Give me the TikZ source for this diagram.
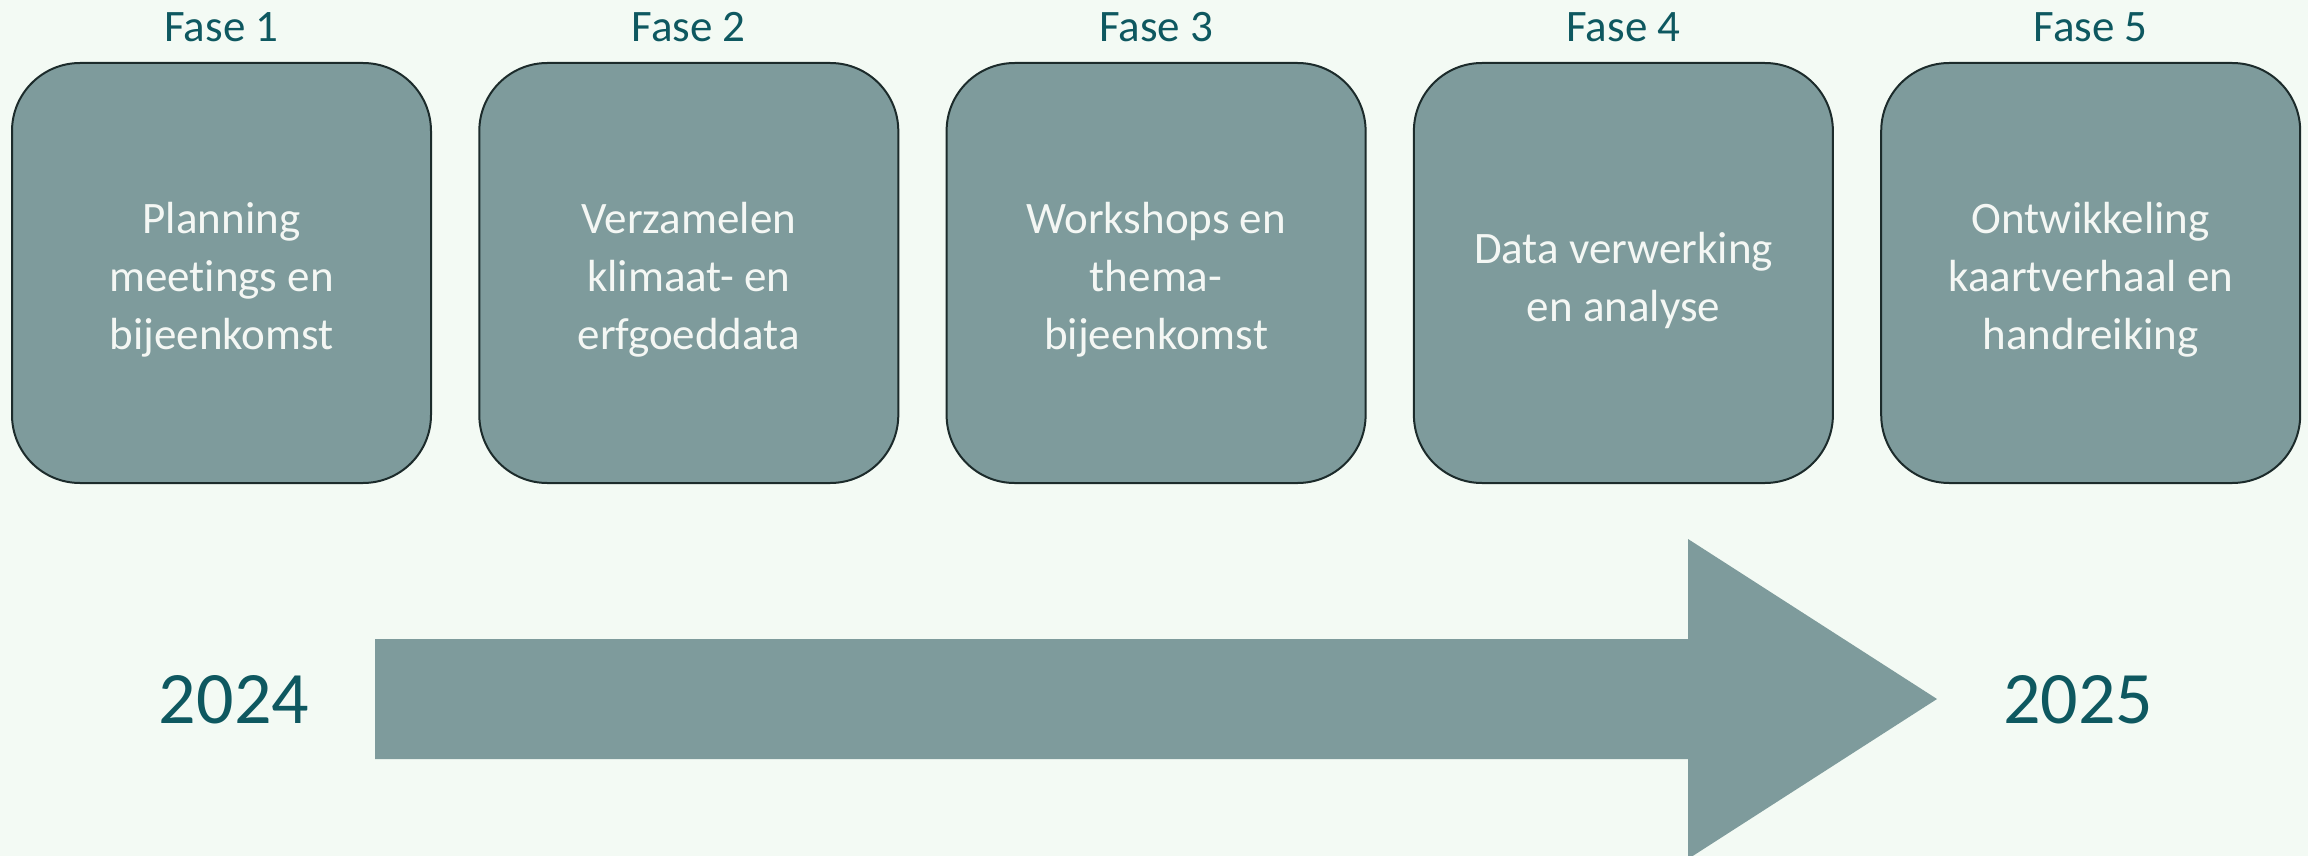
\documentclass[tikz,border=0pt]{standalone}
\usepackage{fontspec}
\setmainfont{Carlito}[Ligatures=CommonOff]
\definecolor{bg}{HTML}{F3FAF4}
\definecolor{boxfill}{HTML}{7E9B9C}
\definecolor{darkteal}{HTML}{0E5860}
\definecolor{boxline}{HTML}{1C2B2B}
\definecolor{boxtext}{HTML}{F4F7F4}
\tikzset{
  phase/.style={draw=boxline, line width=1pt, fill=boxfill, rounded corners=34pt,
    minimum width=209.5pt, minimum height=210pt, inner sep=0pt},
  phasetext/.style={align=center, inner sep=0pt, yshift=-3.6pt,
    text=boxtext, font=\fontsize{22.5}{29}\selectfont},
  fase/.style={text=darkteal, inner sep=0pt, font=\fontsize{22.5}{27}\selectfont},
  year/.style={text=darkteal, inner sep=0pt, font=\fontsize{37}{44}\selectfont}
}
\begin{document}
\begin{tikzpicture}[x=0.5pt, y=-0.5pt, line join=round]
  \def\w{2308}\def\h{856}
  \fill[bg] (0,0) rectangle (\w,\h);
  \useasboundingbox (0,0) rectangle (\w,\h);
  % phases
  \foreach \i/\txt in {1/{Planning\\meetings en\\bijeenkomst},
                       2/{Verzamelen\\klimaat- en\\erfgoeddata},
                       3/{Workshops en\\thema-\\bijeenkomst},
                       4/{Data verwerking\\en analyse},
                       5/{Ontwikkeling\\kaartverhaal en\\handreiking}}
  {
    \node[phase] (p\i) at ({221.5+467.3*(\i-1)},273) {};
    \node[phasetext] (t\i) at (p\i) {\txt};
    \node[fase] (f\i) at ({221.5+467.3*(\i-1)},27) {Fase \i};
  }
  % timeline
  \fill[boxfill] (375,639) -- (1688,639) -- (1688,539) -- (1937,699)
    -- (1688,859) -- (1688,759) -- (375,759) -- cycle;
  \node[year] (y24) at (234,700) {2024};
  \node[year] (y25) at (2078,700) {2025};
\end{tikzpicture}
\end{document}
